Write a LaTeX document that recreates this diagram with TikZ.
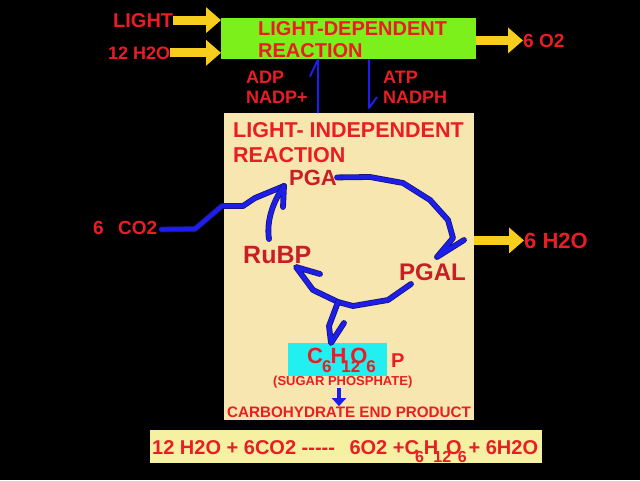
\documentclass[tikz,border=0pt]{standalone}
\usepackage{fontspec}
\setmainfont{Liberation Sans}
\usetikzlibrary{arrows.meta}
\definecolor{tred}{RGB}{232,30,36}
\definecolor{dred}{RGB}{200,30,38}
\definecolor{lgreen}{RGB}{124,240,26}
\definecolor{tan}{RGB}{247,230,176}
\definecolor{cyanbox}{RGB}{34,240,240}
\definecolor{eqyellow}{RGB}{245,240,162}
\definecolor{yarr}{RGB}{248,206,30}
\definecolor{bblue}{RGB}{30,30,235}
\definecolor{bnavy}{RGB}{20,20,120}
\begin{document}
\begin{tikzpicture}[x=1pt,y=-1pt,
  txt/.style={inner sep=0pt, anchor=base west, text=tred, font=\bfseries\fontsize{#1}{#1}\selectfont},
  txtml/.style={inner sep=0pt, anchor=base west, text=tred, align=left},
  boxn/.style={inner sep=0pt, anchor=north west, draw=none},
  yarrow/.style={draw=yarr, line width=9pt, -{Triangle[length=15pt,width=25pt]}},
  thinblue/.style={draw=bblue, line width=2pt, line join=round},
  bpath/.style={draw=bblue, line width=4.2pt, line join=round, line cap=round,
     preaction={draw=bnavy, line width=5.8pt, line join=round, line cap=round}},
  bsmall/.style={draw=bblue, line width=4pt, -{Triangle[length=8pt,width=14pt]}}
]
\fill[black] (0,0) rectangle (640,480);
\useasboundingbox (0,0) rectangle (640,480);

% boxes
\node[boxn, fill=lgreen, minimum width=255pt, minimum height=41pt] (ld) at (221,18) {};
\node[boxn, fill=tan, minimum width=250pt, minimum height=307pt] (tan) at (224,113) {};
\node[boxn, fill=cyanbox, minimum width=99pt, minimum height=33pt] (cy) at (288,343) {};
\node[boxn, fill=eqyellow, minimum width=392pt, minimum height=33pt] (eqbox) at (150,430) {};

% top texts
\node[txt=20] (light) at (113,27) {LIGHT};
\node[txt=18] (water) at (108,59) {12 H2O};
\node[txtml, font=\bfseries\fontsize{20}{22}\selectfont] (ldt) at (258,57) {LIGHT-DEPENDENT\\REACTION};
\node[txt=19] (o2) at (523,47) {6 O2};
\node[txtml, font=\bfseries\fontsize{18}{20}\selectfont] (adp) at (246,103) {ADP\\NADP+};
\node[txtml, font=\bfseries\fontsize{18}{20}\selectfont] (atp) at (383,103) {ATP\\NADPH};

% yellow arrows
\draw[yarrow] (light.east) -- (light.east -| ld.west);
\draw[yarrow] (water.east) -- (water.east -| ld.west);
\draw[yarrow] (o2.west -| ld.east) -- (o2.west);

% thin blue arrows
\draw[thinblue] (318,0 |- tan.north) -- (318,0 |- ld.south) -- ++(-8,17);
\draw[thinblue] (369,0 |- ld.south) -- (369,108) -- ++(8,-11);

% light independent
\node[txtml, font=\bfseries\fontsize{21.5}{25}\selectfont] (lit) at (233,162) {LIGHT- INDEPENDENT\\REACTION};
\node[txt=22, text=dred] (pga) at (289,185) {PGA};
\node[txt=25, text=dred] (rubp) at (243,263) {RuBP};
\node[txt=24, text=dred] (pgal) at (399,280) {PGAL};
\node[txt=19] (co2) at (93,234) {6\hspace{9pt} CO2};
\node[txt=22] (h2o) at (524,248) {6 H2O};

\draw[yarrow] (h2o.west -| tan.east) -- (h2o.west);

% cycle
\coordinate (pgatip) at (284,186);
\coordinate (rubptip) at (296,267);
\coordinate (junc) at (338,302);
\coordinate (sugtip) at (331,343);
\draw[bpath] ([xshift=4pt,yshift=-2pt]co2.east) -- (195,229) -- (222,206) -- (243,206) -- (255,198) -- (pgatip);
\draw[bpath] (269,239) .. controls (266,220) and (274,200) .. (pgatip) -- (283,207);
\draw[bpath] (pga.east) -- (370,177) -- (403,183) -- (430,200) -- (448,220) -- (453,238) -- (437,257) -- (464,240);
\draw[bpath] (411,284) -- (388,300) -- (353,306) -- (junc) -- (313,290) -- (rubptip) -- (320,274);
\draw[bpath] (junc) -- (329,326) -- (sugtip) -- (344,323);

% sugar
\node[txt=22] (glu) at (307,363) {C\kern-1pt\raisebox{-9pt}{\fontsize{17}{17}\selectfont 6}\kern-1pt H\kern-5pt\raisebox{-9pt}{\fontsize{17}{17}\selectfont 12}\kern-10pt O\kern-1pt\raisebox{-9pt}{\fontsize{17}{17}\selectfont 6}};
\node[txt=20] (p) at (391,367) {P};
\node[txt=13] (sugar) at (273,385) {(SUGAR PHOSPHATE)};
\node[txt=15.2] (carb) at (227,417) {CARBOHYDRATE END PRODUCT};
\draw[bsmall] (339,0 |- sugar.south) -- (339,0 |- carb.north);

% equation
\node[txt=20] (eq) at (152,454) {12 H2O + 6CO2 -{}-{}-{}-{}-\hspace{9pt} 6O2 +C\kern-4pt\raisebox{-8pt}{\fontsize{16}{16}\selectfont 6}H\kern-5pt\raisebox{-8pt}{\fontsize{16}{16}\selectfont 12}\kern-5pt O\kern-4pt\raisebox{-8pt}{\fontsize{16}{16}\selectfont 6}\kern2pt+ 6H2O};
\end{tikzpicture}
\end{document}
